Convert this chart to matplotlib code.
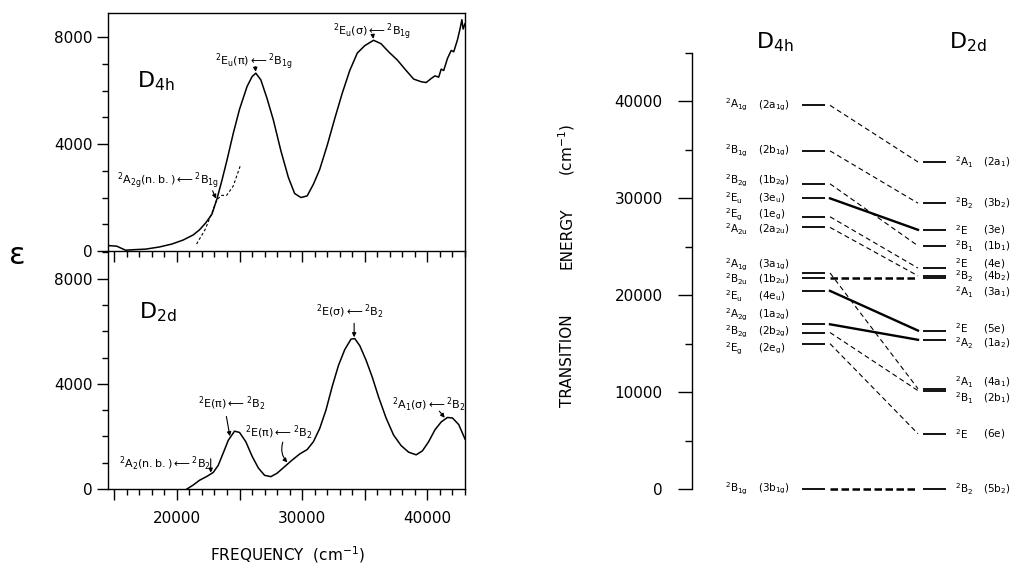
import numpy as np
import matplotlib.pyplot as plt
from matplotlib.ticker import MultipleLocator, FuncFormatter

plt.rcParams['font.family'] = 'DejaVu Sans'
plt.rcParams['mathtext.fontset'] = 'dejavusans'

# --- absorption spectra (frequency cm-1, extinction coefficient) ---
d4h_freq = [14600, 15200, 15900, 16600, 17500, 18600, 19600, 20500, 21300, 21800,
            22300, 22800, 23200, 23600, 24000, 24500, 25000, 25600, 26000, 26300,
            26700, 27200, 27700, 28300, 28900, 29400, 29900, 30400, 30900, 31400,
            32000, 32600, 33200, 33800, 34400, 35000, 35700, 36300, 36900, 37600,
            38300, 38900, 39500, 39900, 40300, 40600, 40900, 41100, 41300, 41600,
            41900, 42100, 42400, 42600, 42750, 42850, 43000]
d4h_eps = [200, 180, 30, 50, 70, 150, 260, 410, 600, 790,
           1050, 1380, 1950, 2650, 3400, 4400, 5300, 6150, 6520, 6650,
           6400, 5700, 4900, 3750, 2750, 2150, 2000, 2060, 2500, 3050,
           3950, 4950, 5900, 6750, 7400, 7680, 7880, 7750, 7450, 7140,
           6750, 6430, 6330, 6300, 6450, 6550, 6500, 6800, 6750, 7200,
           7500, 7450, 7900, 8300, 8650, 8300, 8500]

# dashed band profile under the D4h spectrum
d4h_band_freq = [21570, 22240, 22770, 23170, 23570, 23970, 24500, 25090]
d4h_band_eps = [260, 790, 1390, 1910, 2080, 2080, 2430, 3230]

d2d_freq = [20800, 21300, 21800, 22400, 22900, 23300, 23700, 24100, 24600, 25000,
            25500, 26000, 26500, 27000, 27500, 28000, 28600, 29200, 29800, 30400,
            30900, 31400, 31900, 32400, 32900, 33400, 33900, 34200, 34600, 35100,
            35600, 36100, 36700, 37300, 37900, 38500, 39100, 39600, 40100, 40600,
            41100, 41600, 42000, 42500, 43000]
d2d_eps = [0, 150, 330, 480, 630, 900, 1370, 1850, 2200, 2150,
           1800, 1250, 800, 520, 470, 600, 850, 1100, 1330, 1500,
           1800, 2300, 3000, 3900, 4700, 5300, 5700, 5720, 5450, 4900,
           4250, 3500, 2700, 2050, 1650, 1400, 1300, 1450, 1800, 2250,
           2550, 2720, 2700, 2450, 1900]

# --- correlation diagram (transition energy cm-1) ---
d4h_states = ['A_{1g}', 'B_{1g}', 'B_{2g}', 'E_u', 'E_g', 'A_{2u}', 'A_{1g}',
              'B_{2u}', 'E_u', 'A_{2g}', 'B_{2g}', 'E_g', 'B_{1g}']
d4h_orbitals = ['2a_{1g}', '2b_{1g}', '1b_{2g}', '3e_u', '1e_g', '2a_{2u}', '3a_{1g}',
                '1b_{2u}', '4e_u', '1a_{2g}', '2b_{2g}', '2e_g', '3b_{1g}']
d4h_energy = [39600, 34900, 31500, 30000, 28100, 27000, 22300,
              21750, 20450, 17000, 16150, 15000, 0]

d2d_states = ['A_1', 'B_2', 'E', 'B_1', 'E', 'B_2', 'A_1',
              'E', 'A_2', 'A_1', 'B_1', 'E', 'B_2']
d2d_orbitals = ['2a_1', '3b_2', '3e', '1b_1', '4e', '4b_2', '3a_1',
                '5e', '1a_2', '4a_1', '2b_1', '6e', '5b_2']
d2d_energy = [33750, 29500, 26750, 25100, 22800, 22000, 21750,
              16350, 15400, 10350, 10150, 5700, 0]

corr_from = [0, 1, 2, 3, 4, 5, 6, 7, 8, 9, 10, 11, 12]
corr_to = [0, 1, 3, 2, 4, 5, 9, 6, 7, 8, 10, 11, 12]
corr_kind = ['dash', 'dash', 'dash', 'solid', 'dash', 'dash', 'dash',
             'heavy', 'solid', 'solid', 'dash', 'dash', 'heavy']

# label nudges in pixels (positive = down), layout only
d4h_nudge = [0, 0, -3, 0, -2, 2, -8, 1, 5, -9, -1, 5, 0]
d2d_nudge = [0, 0, 0, 0, -5, 0, 14, -2, 3, -7, 8, 0, 0]

W, H = 1014, 564
fig = plt.figure(figsize=(W / 100, H / 100), dpi=100)


def box(x0, y0, x1, y1):
    return [x0 / W, 1 - y1 / H, (x1 - x0) / W, (y1 - y0) / H]


ax2 = fig.add_axes(box(108, 251, 465, 489))
ax1 = fig.add_axes(box(108, 13, 465, 251))
ax3 = fig.add_axes(box(692, 53, 1014, 489))
ax1.patch.set_alpha(0)

for ax in (ax1, ax2):
    ax.set_xlim(14500, 43000)
    ax.xaxis.set_major_locator(MultipleLocator(5000))
    ax.xaxis.set_minor_locator(MultipleLocator(1000))
    ax.yaxis.set_major_locator(MultipleLocator(4000))
    ax.yaxis.set_minor_locator(MultipleLocator(1000))
    ax.tick_params(which='both', direction='out', width=1, top=False, right=False)
    ax.tick_params(which='major', length=8)
    ax.tick_params(which='minor', length=4.5)
    ax.tick_params(axis='y', labelsize=11, pad=3)
    for s in ax.spines.values():
        s.set_linewidth(1)

ax1.set_ylim(0, 8900)
ax1.tick_params(axis='x', labelbottom=False)
ax2.set_ylim(0, 9050)
ax2.spines['top'].set_visible(False)
ax2.xaxis.set_major_formatter(FuncFormatter(lambda v, p: f'{v:.0f}' if v % 10000 == 0 else ''))
ax2.tick_params(axis='x', labelsize=11, pad=8)

ax1.plot(d4h_freq, d4h_eps, color='k', lw=1.1)
ax1.plot(d4h_band_freq, d4h_band_eps, color='k', lw=0.8, ls=(0, (2.5, 2)))
ax2.plot(d2d_freq, d2d_eps, color='k', lw=1.1)


def pointer(ax, fx, fy, tx, curve_x, curve_y, rad=0.0):
    ty = np.interp(tx, curve_x, curve_y)
    ax.annotate('', xy=(tx, ty), xytext=(fx, fy),
                arrowprops=dict(arrowstyle='-|>', color='k', lw=0.8, mutation_scale=6,
                                shrinkA=0, shrinkB=1,
                                connectionstyle=f'arc3,rad={rad}'))


fs = 8
arr = r'\longleftarrow'
ax1.text(18320, 6360, r'$\mathrm{D_{4h}}$', fontsize=16, ha='center', va='center')
ax1.text(19280, 2620, r'$^2\mathrm{A_{2g}(n.b.)}' + arr + r'{}^2\mathrm{B_{1g}}$',
         fontsize=fs, ha='center', va='center')
pointer(ax1, 22850, 2250, 23170, d4h_freq, d4h_eps)
ax1.text(26160, 7070, r'$^2\mathrm{E_u(\pi)}' + arr + r'{}^2\mathrm{B_{1g}}$',
         fontsize=fs, ha='center', va='center')
pointer(ax1, 26250, 6900, 26300, d4h_freq, d4h_eps)
ax1.text(35600, 8190, r'$^2\mathrm{E_u(\sigma)}' + arr + r'{}^2\mathrm{B_{1g}}$',
         fontsize=fs, ha='center', va='center')
pointer(ax1, 35650, 8040, 35700, d4h_freq, d4h_eps)

ax2.text(18480, 6740, r'$\mathrm{D_{2d}}$', fontsize=16, ha='center', va='center')
ax2.text(33840, 6740, r'$^2\mathrm{E(\sigma)}' + arr + r'{}^2\mathrm{B_2}$',
         fontsize=fs, ha='center', va='center')
pointer(ax2, 34150, 6300, 34150, d2d_freq, d2d_eps)
ax2.text(24400, 3220, r'$^2\mathrm{E(\pi)}' + arr + r'{}^2\mathrm{B_2}$',
         fontsize=fs, ha='center', va='center')
pointer(ax2, 23950, 2760, 24250, d2d_freq, d2d_eps)
ax2.text(28100, 2140, r'$^2\mathrm{E(\pi)}' + arr + r'{}^2\mathrm{B_2}$',
         fontsize=fs, ha='center', va='center')
pointer(ax2, 28450, 1780, 28900, d2d_freq, d2d_eps, rad=0.3)
ax2.text(40100, 3180, r'$^2\mathrm{A_1(\sigma)}' + arr + r'{}^2\mathrm{B_2}$',
         fontsize=fs, ha='center', va='center')
pointer(ax2, 40950, 2960, 41450, d2d_freq, d2d_eps)
ax2.text(19040, 960, r'$^2\mathrm{A_2(n.b.)}' + arr + r'{}^2\mathrm{B_2}$',
         fontsize=fs, ha='center', va='center')
pointer(ax2, 22700, 1150, 22700, d2d_freq, d2d_eps)

fig.text(17 / W, 1 - 255 / H, 'ε', fontsize=22, ha='center', va='center')
fig.text(287 / W, 1 - 555 / H, 'FREQUENCY  (cm$^{-1}$)', fontsize=11,
         ha='center', va='center')

# --- correlation diagram ---
ax3.set_xlim(0, 322)
ax3.set_ylim(0, 45000)
ax3.yaxis.set_major_locator(MultipleLocator(10000))
ax3.yaxis.set_minor_locator(MultipleLocator(5000))
for s in ('top', 'right', 'bottom'):
    ax3.spines[s].set_visible(False)
ax3.spines['left'].set_linewidth(1)
ax3.set_xticks([])
ax3.tick_params(axis='y', which='major', length=10, width=1, pad=11, labelsize=11)
ax3.tick_params(axis='y', which='minor', length=5, width=1)

ax3.hlines(d4h_energy, 110, 133, color='k', lw=1.3, clip_on=False)
ax3.hlines(d2d_energy, 231, 254, color='k', lw=1.3, clip_on=False)

styles = {'dash': dict(lw=0.8, ls=(0, (4.5, 3))),
          'solid': dict(lw=1.7, ls='-'),
          'heavy': dict(lw=1.8, ls=(0, (3, 1.4)))}
for i, j, k in zip(corr_from, corr_to, corr_kind):
    ax3.plot([138, 226], [d4h_energy[i], d2d_energy[j]], color='k',
             clip_on=False, **styles[k])

lfs = 7.5
for e, s, o, n in zip(d4h_energy, d4h_states, d4h_orbitals, d4h_nudge):
    ax3.annotate(r'$^2\mathrm{' + s + '}$', (33, e), xytext=(0, -n * 0.72),
                 textcoords='offset points', fontsize=lfs, ha='left', va='center')
    ax3.annotate(r'$(\mathrm{' + o + '})$', (66, e), xytext=(0, -n * 0.72),
                 textcoords='offset points', fontsize=lfs, ha='left', va='center')
for e, s, o, n in zip(d2d_energy, d2d_states, d2d_orbitals, d2d_nudge):
    ax3.annotate(r'$^2\mathrm{' + s + '}$', (263, e), xytext=(0, -n * 0.72),
                 textcoords='offset points', fontsize=lfs, ha='left', va='center',
                 annotation_clip=False)
    ax3.annotate(r'$(\mathrm{' + o + '})$', (291, e), xytext=(0, -n * 0.72),
                 textcoords='offset points', fontsize=lfs, ha='left', va='center',
                 annotation_clip=False)

fig.text(775 / W, 1 - 42 / H, r'$\mathrm{D_{4h}}$', fontsize=16, ha='center', va='center')
fig.text(968 / W, 1 - 42 / H, r'$\mathrm{D_{2d}}$', fontsize=16, ha='center', va='center')

fig.text(567 / W, 1 - 150 / H, '(cm$^{-1}$)', fontsize=11, rotation=90,
         ha='center', va='center')
fig.text(567 / W, 1 - 238 / H, 'ENERGY', fontsize=11, rotation=90,
         ha='center', va='center')
fig.text(567 / W, 1 - 361 / H, 'TRANSITION', fontsize=11, rotation=90,
         ha='center', va='center')

fig.savefig('out.png', dpi=100)
